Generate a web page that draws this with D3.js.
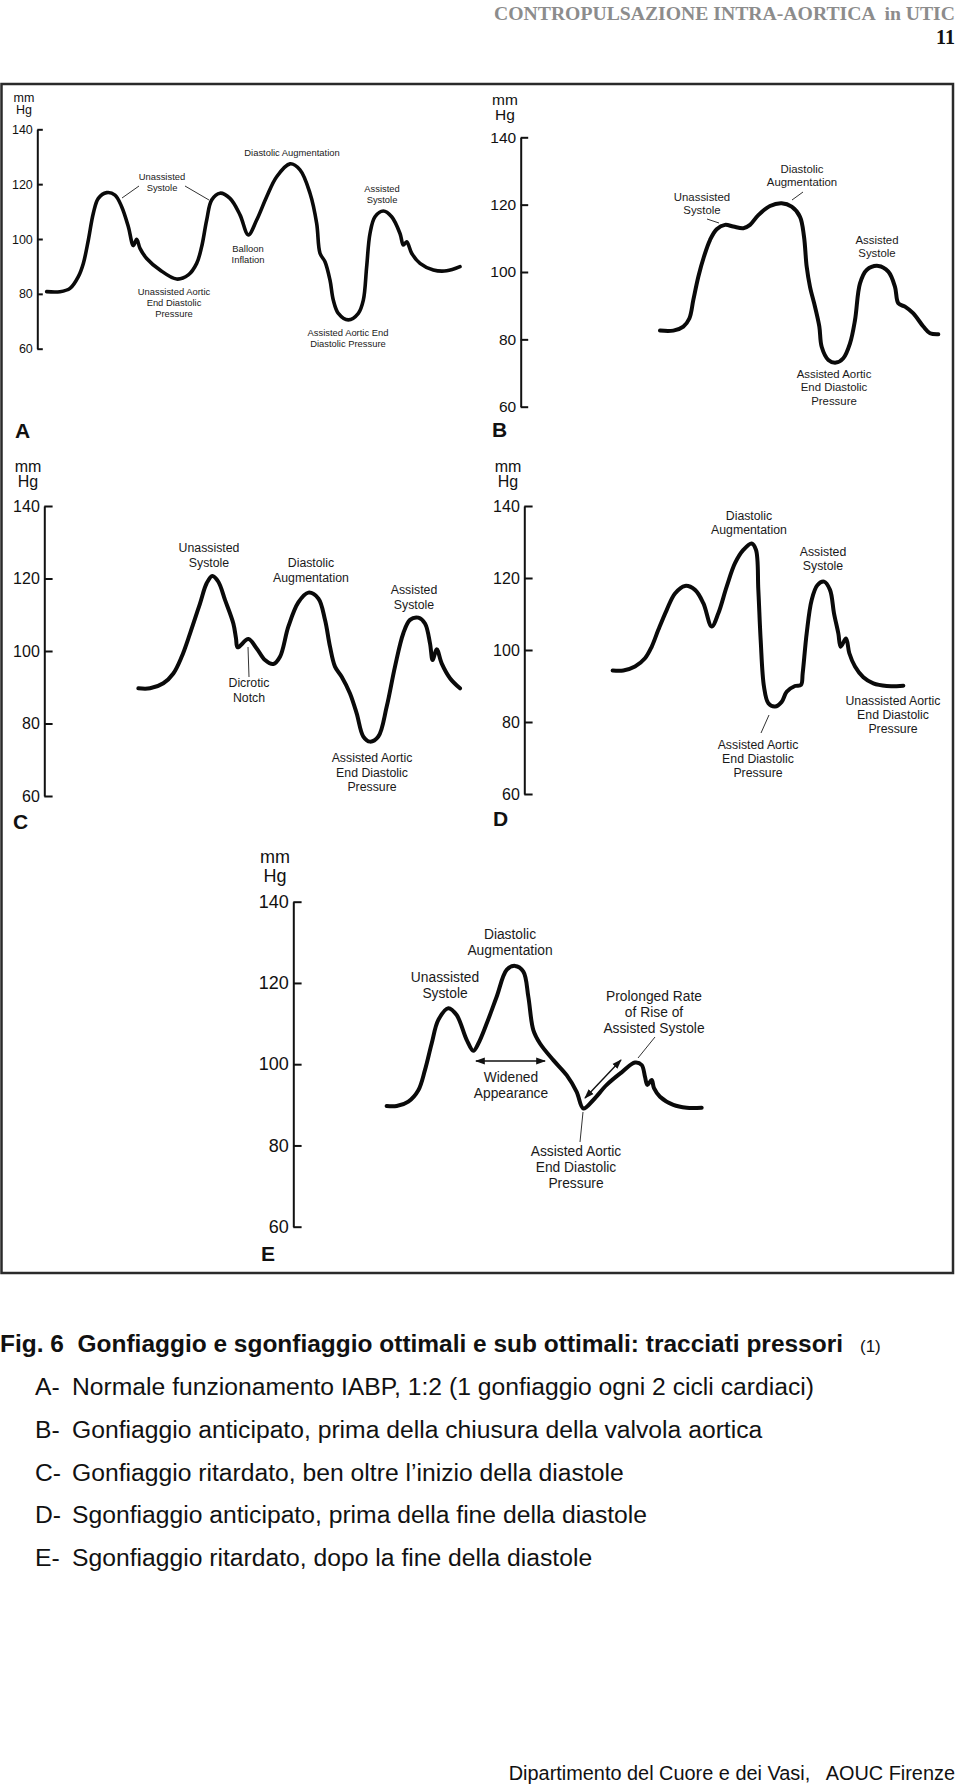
<!DOCTYPE html>
<html><head><meta charset="utf-8">
<script src="https://cdn.jsdelivr.net/npm/d3@7"></script>
<style>
html,body{margin:0;padding:0;background:#fff;}
svg{display:block;}
text{white-space:pre;}
</style></head>
<body>
<svg id="fig" width="960" height="1786"></svg>
<script>
// ---------- DATA (time in sweep units, pressure in mmHg) ----------
const ticks = [60, 80, 100, 120, 140];
const panelNames = ["A", "B", "C", "D", "E"];

const tA = [140,180,210,235,250,265,280,295,320,345,365,385,400,410,420,440,480,530,565,590,605,620,635,660,690,720,745,770,800,830,870,900,930,950,960,975,990,1000,1015,1045,1075,1090,1100,1110,1125,1150,1175,1200,1210,1220,1235,1260,1300,1340,1380];
const pA = [80.8,80.8,82,86.3,91.1,99.6,109.4,114.8,116.9,116,111.8,104.5,97.6,99.9,96.6,92.9,88.7,85.4,86.9,91.1,97.2,106.9,114.2,116.7,114.8,108.8,101.5,106.9,115.4,122.7,127.4,125.2,116.7,105.7,94.8,91.7,85,77.7,72.9,70.5,72.9,77.7,89.9,102,108.1,110.2,108.1,102,97.8,99,94.8,91.1,88.7,88.4,89.9];

const tB = [540,580,610,628,640,655,672,690,710,735,760,790,810,835,870,905,935,960,972,980,990,1005,1018,1025,1045,1068,1090,1110,1125,1140,1160,1195,1225,1245,1255,1275,1300,1330,1350,1375];
const pB = [82.6,82.6,83.8,86.2,91.7,98.6,104.6,109.5,112.7,114,113.5,113,114,116.9,119.6,120.4,119.4,116.4,110.5,101.6,95.6,89.7,83.8,77.8,73.9,73.1,74.4,78.8,85.7,96.6,100.6,101.8,100.1,95.6,90.7,89.7,87.7,83.8,81.8,81.5];

const tC = [415,450,490,520,545,570,600,620,637,655,675,700,708,713,745,770,795,820,840,865,895,925,955,975,990,1005,1025,1050,1070,1090,1110,1135,1160,1185,1210,1230,1255,1275,1290,1298,1310,1325,1350,1380];
const pC = [89.7,89.7,91.1,93.8,98.4,104.8,113.1,118.7,120.7,119.1,114.1,107.6,103.5,101,103.3,100.7,97.5,96.4,98.4,106.7,113.4,116.1,114.5,108.6,101.2,95.7,92.9,88.3,82.8,76.4,75,76.4,84.6,95.7,104.9,108.6,109.2,107.6,102.1,97.5,100.5,96.6,92.5,89.7];

const tD = [398,430,465,495,515,535,560,585,615,645,670,695,715,740,765,790,815,828,835,842,852,865,885,905,920,945,963,968,980,995,1012,1032,1050,1062,1075,1082,1098,1108,1125,1150,1180,1220,1270];
const pD = [94.3,94.3,95.4,97.7,100.9,105.6,111.1,115.7,117.8,116.7,113,106.5,110.2,117.6,124.1,127.8,129.6,127.8,116.7,102.8,89.8,85.2,84.3,85.6,88.4,90,90.3,93.5,104.6,113.9,118,119,116.7,110.2,104.6,100.9,103.2,99.1,95.4,92.4,90.7,90,90.1];

const tE = [440,470,505,535,555,575,595,625,650,680,700,715,740,770,800,825,850,865,880,900,940,980,1010,1030,1060,1100,1145,1185,1205,1215,1222,1235,1242,1260,1300,1340,1385];
const pE = [89.7,89.7,90.8,93.6,98.6,105.1,110.9,113.8,112.1,106,103.3,105.1,110,116.6,123.2,124.2,122.8,116.6,108.4,105.1,101,97.3,93.2,89.1,91.2,94.9,98,100.4,99.8,96.9,94.9,96.1,94.1,92,90,89.3,89.3];

const seriesT = [tA, tB, tC, tD, tE];
const seriesP = [pA, pB, pC, pD, pE];

// annotation texts
const annA = [["Diastolic Augmentation"],["Unassisted","Systole"],["Assisted","Systole"],["Balloon","Inflation"],["Unassisted Aortic","End Diastolic","Pressure"],["Assisted Aortic End","Diastolic Pressure"]];
const annB = [["Unassisted","Systole"],["Diastolic","Augmentation"],["Assisted","Systole"],["Assisted Aortic","End Diastolic","Pressure"]];
const annC = [["Unassisted","Systole"],["Diastolic","Augmentation"],["Assisted","Systole"],["Dicrotic","Notch"],["Assisted Aortic","End Diastolic","Pressure"]];
const annD = [["Diastolic","Augmentation"],["Assisted","Systole"],["Assisted Aortic","End Diastolic","Pressure"],["Unassisted Aortic","End Diastolic","Pressure"]];
const annE = [["Diastolic","Augmentation"],["Unassisted","Systole"],["Prolonged Rate","of Rise of","Assisted Systole"],["Widened","Appearance"],["Assisted Aortic","End Diastolic","Pressure"]];
const annTexts = [annA, annB, annC, annD, annE];

const headerText = "CONTROPULSAZIONE INTRA-AORTICA  in UTIC";
const pageNum = "11";
const captionTitle = "Fig. 6  Gonfiaggio e sgonfiaggio ottimali e sub ottimali: tracciati pressori";
const captionRef = "(1)";
const captionKeys = ["A-", "B-", "C-", "D-", "E-"];
const captionLines = [
  "Normale funzionamento IABP, 1:2 (1 gonfiaggio ogni 2 cicli cardiaci)",
  "Gonfiaggio anticipato, prima della chiusura della valvola aortica",
  "Gonfiaggio ritardato, ben oltre l\u2019inizio della diastole",
  "Sgonfiaggio anticipato, prima della fine della diastole",
  "Sgonfiaggio ritardato, dopo la fine della diastole"
];
const footerText = "Dipartimento del Cuore e dei Vasi,   AOUC Firenze";

// ---------- LAYOUT ----------
const panels = [
  {ox:0,   oy:80,  axisX:37.3,  y140:129.3, y60:348.7, tick:5.5, fs:12.5, ann:9.4,  lh:10.6, sw:3.6,
   unit:{x:24,mm:102,hg:114}, letter:{x:15,y:438,fs:21},
   pos:[[292,153],[162,177],[382,189],[248,249],[174,292],[348,333]],
   lines:[[139,186,122,198],[185,186,209,200]], arrows:[]},
  {ox:480, oy:80,  axisX:520.7, y140:137.3, y60:406.7, tick:7.5, fs:15.5, ann:11.4, lh:13.2, sw:4,
   unit:{x:505,mm:105,hg:120}, letter:{x:492,y:437,fs:21},
   pos:[[702,197],[802,169],[877,240],[834,374]],
   lines:[[707,219,719,223],[803,192,792,200]], arrows:[]},
  {ox:0,   oy:440, axisX:44.3,  y140:506,   y60:796,   tick:8.3, fs:16,   ann:12.3, lh:14.2, sw:4,
   unit:{x:28,mm:472,hg:487}, letter:{x:13,y:829,fs:21},
   pos:[[209,548],[311,563],[414,590],[249,683],[372,758]],
   lines:[[248,647,249,677]], arrows:[]},
  {ox:480, oy:440, axisX:524.3, y140:506,   y60:794,   tick:8.3, fs:16,   ann:12.3, lh:13.8, sw:4,
   unit:{x:508,mm:472,hg:487}, letter:{x:493,y:826,fs:21},
   pos:[[749,516],[823,552],[758,745],[893,701]],
   lines:[[769,715,761,733]], arrows:[]},
  {ox:240, oy:830, axisX:293.3, y140:901.7, y60:1226.7, tick:8.3, fs:18, ann:13.8, lh:15.8, sw:4,
   unit:{x:275,mm:863,hg:882}, letter:{x:261,y:1261,fs:21},
   pos:[[510,934],[445,977],[654,996],[511,1077],[576,1151]],
   lines:[[655,1037,638,1058],[583,1112,580,1142]],
   arrows:[[476,1061,545,1061],[585,1098,621,1060]]}
];

const svg = d3.select("#fig");
svg.append("rect").attr("width",960).attr("height",1786).attr("fill","#fff");

const defs = svg.append("defs");
defs.append("marker").attr("id","ah").attr("viewBox","0 0 10 10").attr("refX",9).attr("refY",5)
  .attr("markerWidth",7).attr("markerHeight",7).attr("orient","auto-start-reverse")
  .append("path").attr("d","M0,1.5L10,5L0,8.5Z").attr("fill","#111");

// header
svg.append("text").attr("x",955).attr("y",19.5).attr("text-anchor","end")
  .attr("font-family","'Liberation Serif','DejaVu Serif',serif").attr("font-weight","bold")
  .attr("font-size",19.5).attr("fill","#8c8c8c")
  .attr("textLength",461).attr("lengthAdjust","spacingAndGlyphs").text(headerText);
svg.append("text").attr("x",955).attr("y",44).attr("text-anchor","end")
  .attr("font-family","'Liberation Serif','DejaVu Serif',serif").attr("font-weight","bold")
  .attr("font-size",20).attr("fill","#111").text(pageNum);

// frame
svg.append("rect").attr("x",1.5).attr("y",84).attr("width",951.5).attr("height",1189)
  .attr("fill","none").attr("stroke","#2a2a2a").attr("stroke-width",2.5);

const sans = "'Liberation Sans',Arial,Helvetica,sans-serif";

panels.forEach((P, i) => {
  const g = svg.append("g");
  const x = d3.scaleLinear().domain([0,1440]).range([P.ox, P.ox+480]);
  const y = d3.scaleLinear().domain([60,140]).range([P.y60, P.y140]);

  // axis
  const ax = d3.axisLeft(y).tickValues(ticks).tickSizeInner(-P.tick).tickSizeOuter(0).tickPadding(4.5);
  const ag = g.append("g").attr("transform",`translate(${P.axisX},0)`).call(ax);
  ag.select(".domain").attr("stroke","#111").attr("stroke-width",2);
  ag.selectAll(".tick line").attr("stroke","#111").attr("stroke-width",2);
  ag.selectAll(".tick text").attr("font-family",sans).attr("font-size",P.fs).attr("fill","#111");

  // units
  g.append("text").attr("x",P.unit.x).attr("y",P.unit.mm).attr("text-anchor","middle")
    .attr("font-family",sans).attr("font-size",P.fs).attr("fill","#111").text("mm");
  g.append("text").attr("x",P.unit.x).attr("y",P.unit.hg).attr("text-anchor","middle")
    .attr("font-family",sans).attr("font-size",P.fs).attr("fill","#111").text("Hg");

  // panel letter
  g.append("text").attr("x",P.letter.x).attr("y",P.letter.y)
    .attr("font-family",sans).attr("font-weight","bold").attr("font-size",P.letter.fs)
    .attr("fill","#111").text(panelNames[i]);

  // curve
  const pts = seriesT[i].map((t,k)=>[t, seriesP[i][k]]);
  const line = d3.line().x(d=>x(d[0])).y(d=>y(d[1])).curve(d3.curveCatmullRom.alpha(0.5));
  g.append("path").attr("d",line(pts)).attr("fill","none").attr("stroke","#0a0a0a")
    .attr("stroke-width",P.sw).attr("stroke-linejoin","round").attr("stroke-linecap","round");

  // leader lines
  P.lines.forEach(l=>{
    g.append("line").attr("x1",l[0]).attr("y1",l[1]).attr("x2",l[2]).attr("y2",l[3])
      .attr("stroke","#333").attr("stroke-width",1);
  });
  P.arrows.forEach(l=>{
    g.append("line").attr("x1",l[0]).attr("y1",l[1]).attr("x2",l[2]).attr("y2",l[3])
      .attr("stroke","#111").attr("stroke-width",1.4)
      .attr("marker-start","url(#ah)").attr("marker-end","url(#ah)");
  });

  // annotations
  annTexts[i].forEach((lines,k)=>{
    const [cx,cy] = P.pos[k];
    lines.forEach((s,j)=>{
      g.append("text").attr("x",cx).attr("y",cy + j*P.lh).attr("dy","0.36em")
        .attr("text-anchor","middle").attr("font-family",sans).attr("font-size",P.ann)
        .attr("fill","#1a1a1a").text(s);
    });
  });
});

// caption
svg.append("text").attr("x",0).attr("y",1352).attr("font-family",sans).attr("font-weight","bold")
  .attr("font-size",23).attr("fill","#111").attr("textLength",843).attr("lengthAdjust","spacingAndGlyphs")
  .text(captionTitle);
svg.append("text").attr("x",860).attr("y",1352).attr("font-family",sans)
  .attr("font-size",17).attr("fill","#111").text(captionRef);
captionKeys.forEach((k,i)=>{
  const yy = 1395 + i*42.8;
  svg.append("text").attr("x",35).attr("y",yy).attr("font-family",sans).attr("font-size",24.7)
    .attr("fill","#111").text(k);
  svg.append("text").attr("x",72).attr("y",yy).attr("font-family",sans).attr("font-size",24.7)
    .attr("fill","#111").text(captionLines[i]);
});

// footer
svg.append("text").attr("x",955).attr("y",1780).attr("text-anchor","end").attr("font-family",sans)
  .attr("font-size",19.9).attr("fill","#111").text(footerText);
</script>
</body></html>
